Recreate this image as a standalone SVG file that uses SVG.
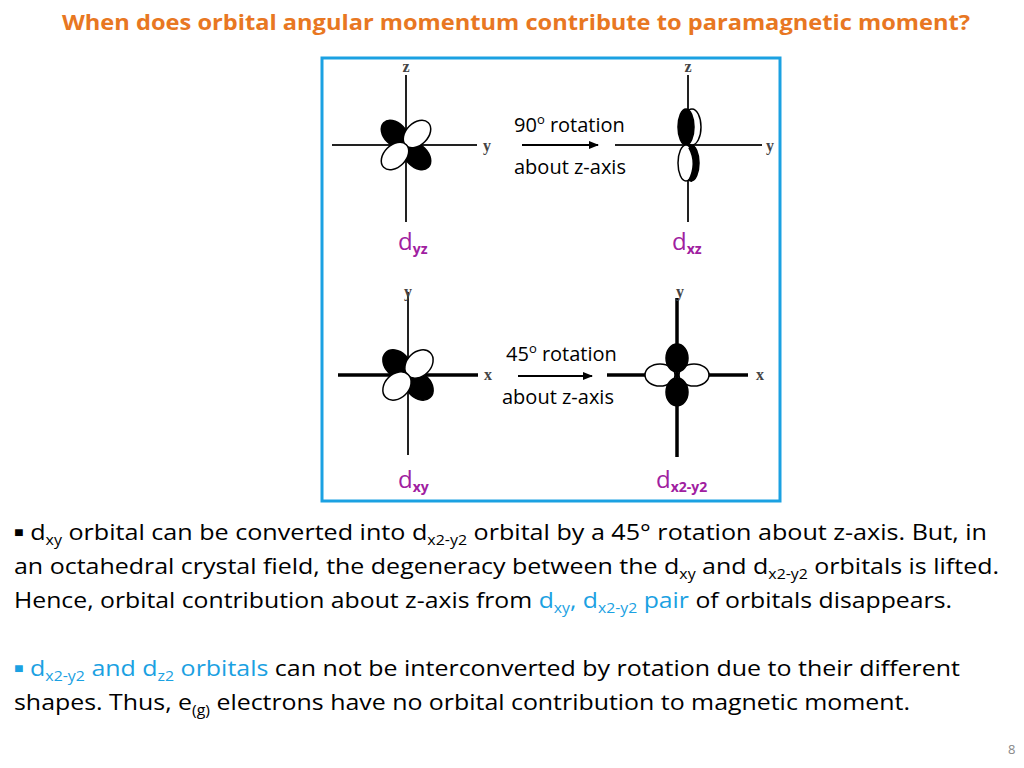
<svg xmlns="http://www.w3.org/2000/svg" width="1024" height="768" viewBox="0 0 1024 768">
<style>
.ax{stroke:#222;stroke-width:2;fill:none}
.axt{stroke:#000;stroke-width:3.5;fill:none}
.f{fill:#000;stroke:#000;stroke-width:1.5}
.o{fill:#fff;stroke:#000;stroke-width:1.5}
.al{font-family:"Liberation Serif",serif;font-size:16px;font-weight:bold;fill:#444}
.pl{font-family:"Open Sans",sans-serif;font-size:24px;fill:#a020a0}
.ps{font-family:"Open Sans",sans-serif;font-size:14px;fill:#a020a0;font-weight:bold}
.lab{font-family:"Open Sans",sans-serif;font-size:20px;fill:#000}
.b{font-family:"Open Sans",sans-serif;font-size:22px;fill:#000}
.bl{fill:#1ba1e2}
</style>
<defs><marker id="ah" markerWidth="10" markerHeight="8" refX="9" refY="4" orient="auto" markerUnits="userSpaceOnUse"><path d="M0,0 L10,4 L0,8 z" fill="#000"/></marker></defs>
<rect width="1024" height="768" fill="#fff"/>
<text x="62" y="30" textLength="908" lengthAdjust="spacingAndGlyphs" font-family="Open Sans,sans-serif" font-size="22" font-weight="bold" fill="#e87722">When does orbital angular momentum contribute to paramagnetic moment?</text>
<rect x="322" y="58" width="458" height="443" fill="#fff" stroke="#1ba1e2" stroke-width="3"/>
<g id="dyz">
<line class="ax" x1="406" y1="75" x2="406" y2="222"/><line class="ax" x1="332" y1="145" x2="477" y2="145"/>
<text class="al" x="406" y="72" text-anchor="middle">z</text><text class="al" x="483" y="151">y</text>
<ellipse class="f" cx="395" cy="134" rx="16" ry="11" transform="rotate(45 395 134)"/>
<ellipse class="f" cx="417" cy="156" rx="16" ry="11" transform="rotate(45 417 156)"/>
<ellipse class="o" cx="417" cy="134" rx="16" ry="11" transform="rotate(-45 417 134)"/>
<ellipse class="o" cx="395" cy="156" rx="16" ry="11" transform="rotate(-45 395 156)"/>
<text class="pl" x="398" y="250">d<tspan class="ps" dy="4">yz</tspan></text>
</g>
<g id="dxz">
<line class="ax" x1="688" y1="75" x2="688" y2="222"/><line class="ax" x1="615" y1="145" x2="762" y2="145"/>
<text class="al" x="688" y="72" text-anchor="middle">z</text><text class="al" x="766" y="151">y</text>
<ellipse class="o" cx="692" cy="127" rx="9" ry="18"/>
<ellipse class="f" cx="686" cy="127" rx="8" ry="18"/>
<ellipse class="f" cx="691" cy="163" rx="8" ry="18"/>
<ellipse class="o" cx="686" cy="163" rx="8" ry="18"/>
<path d="M690,147 Q699,163 690,181" stroke="#000" stroke-width="4" fill="none"/>
<text class="pl" x="672" y="250">d<tspan class="ps" dy="4">xz</tspan></text>
</g>
<g id="dxy">
<line class="ax" x1="408" y1="292" x2="408" y2="455" stroke-width="1.5"/><line class="axt" x1="338" y1="375" x2="478" y2="375"/>
<text class="al" x="408" y="297" text-anchor="middle">y</text><text class="al" x="484" y="380">x</text>
<ellipse class="f" cx="397" cy="364" rx="16" ry="12" transform="rotate(45 397 364)"/>
<ellipse class="f" cx="419" cy="386" rx="16" ry="12" transform="rotate(45 419 386)"/>
<ellipse class="o" cx="419" cy="364" rx="16" ry="12" transform="rotate(-45 419 364)"/>
<ellipse class="o" cx="397" cy="386" rx="16" ry="12" transform="rotate(-45 397 386)"/>
<text class="pl" x="398" y="488">d<tspan class="ps" dy="4">xy</tspan></text>
</g>
<g id="dx2y2">
<line class="axt" x1="677" y1="298" x2="677" y2="457"/><line class="axt" x1="607" y1="375" x2="748" y2="375"/>
<text class="al" x="680" y="297" text-anchor="middle">y</text><text class="al" x="756" y="380">x</text>
<ellipse class="o" cx="660" cy="375" rx="15" ry="11"/>
<ellipse class="o" cx="694" cy="375" rx="15" ry="11"/>
<ellipse class="f" cx="677" cy="358" rx="11" ry="14"/>
<ellipse class="f" cx="677" cy="392" rx="11" ry="14"/>
<text class="pl" x="656" y="488">d<tspan class="ps" dy="4">x2-y2</tspan></text>
</g>
<g id="connectors">
<line x1="522" y1="145" x2="598" y2="145" stroke="#000" stroke-width="2" marker-end="url(#ah)"/>
<line x1="518" y1="376" x2="592" y2="376" stroke="#000" stroke-width="2" marker-end="url(#ah)"/>
</g>
<text class="lab" x="514" y="132">90<tspan font-size="13" dy="-8">o</tspan><tspan dy="8"> rotation</tspan></text>
<text class="lab" x="514" y="174">about z-axis</text>
<text class="lab" x="506" y="361">45<tspan font-size="13" dy="-8">o</tspan><tspan dy="8"> rotation</tspan></text>
<text class="lab" x="502" y="404">about z-axis</text>
<g class="b">
<text x="14" y="540" textLength="973" lengthAdjust="spacingAndGlyphs"><tspan font-size="14" dy="-3">■</tspan><tspan dy="3"> d</tspan><tspan font-size="14" dy="5">xy</tspan><tspan dy="-5"> orbital can be  converted into d</tspan><tspan font-size="14" dy="5">x2-y2</tspan><tspan dy="-5"> orbital by a 45° rotation about z-axis. But, in</tspan></text>
<text x="14" y="574" textLength="985" lengthAdjust="spacingAndGlyphs">an octahedral crystal field, the degeneracy between the d<tspan font-size="14" dy="5">xy</tspan><tspan dy="-5"> and d</tspan><tspan font-size="14" dy="5">x2-y2</tspan><tspan dy="-5"> orbitals is lifted.</tspan></text>
<text x="14" y="608" textLength="938" lengthAdjust="spacingAndGlyphs">Hence, orbital contribution about z-axis from <tspan class="bl">d</tspan><tspan class="bl" font-size="14" dy="5">xy</tspan><tspan class="bl" dy="-5">, d</tspan><tspan class="bl" font-size="14" dy="5">x2-y2</tspan><tspan class="bl" dy="-5"> pair</tspan> of orbitals disappears.</text>
<text x="14" y="676" textLength="946" lengthAdjust="spacingAndGlyphs"><tspan class="bl" font-size="14" dy="-3">■</tspan><tspan class="bl" dy="3"> d</tspan><tspan class="bl" font-size="14" dy="5">x2-y2</tspan><tspan class="bl" dy="-5"> and d</tspan><tspan class="bl" font-size="14" dy="5">z2</tspan><tspan class="bl" dy="-5"> orbitals</tspan> can not be interconverted by rotation due to their different</text>
<text x="14" y="710" textLength="896" lengthAdjust="spacingAndGlyphs">shapes. Thus, e<tspan font-size="14" dy="5">(g)</tspan><tspan dy="-5"> electrons have no orbital contribution to magnetic moment.</tspan></text>
</g>
<text x="1008" y="754" font-family="Open Sans,sans-serif" font-size="13" fill="#888">8</text>
</svg>
